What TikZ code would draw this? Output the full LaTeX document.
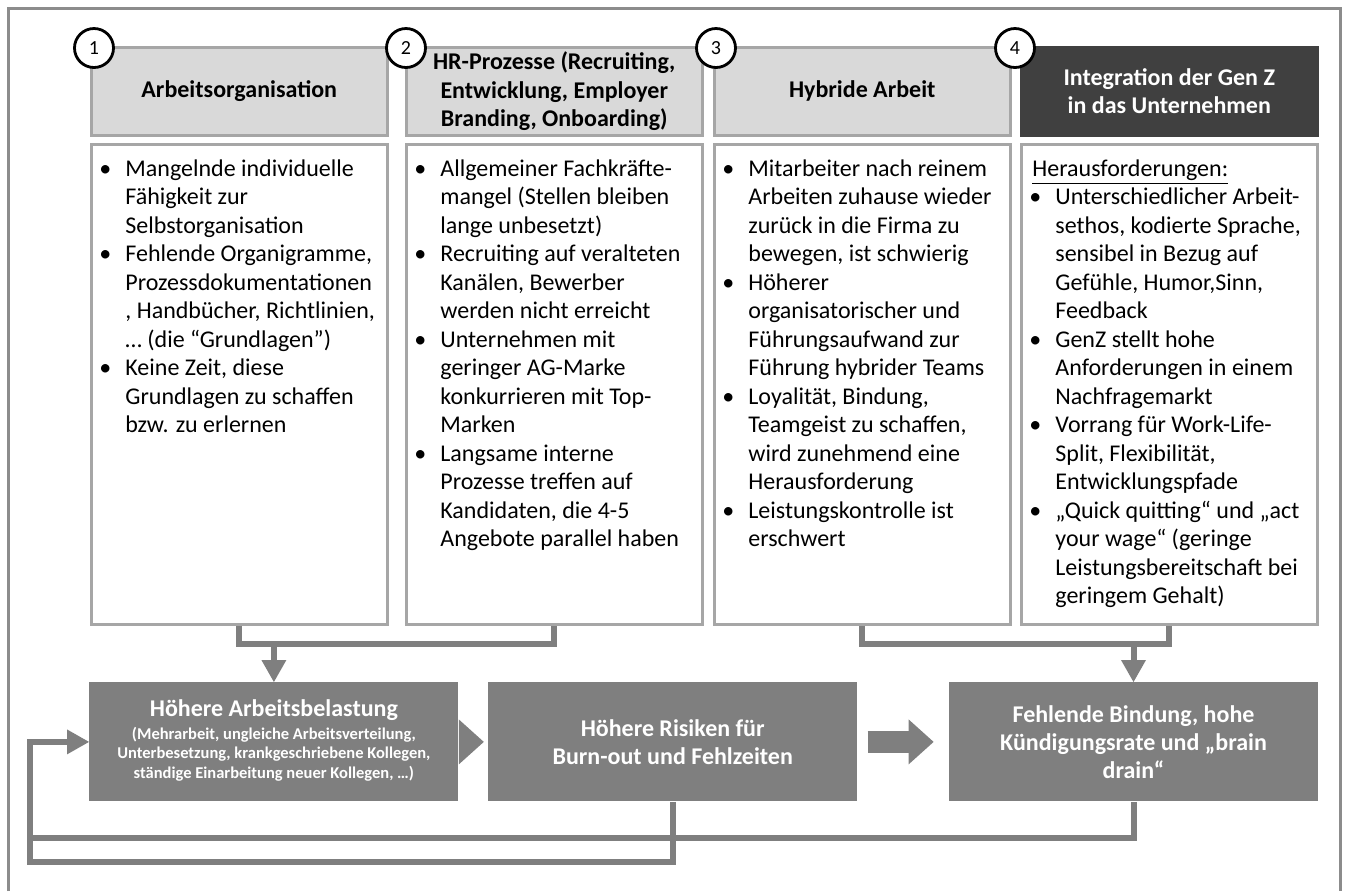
\documentclass[tikz,border=0pt]{standalone}
\usepackage{fontspec}
\setmainfont{Carlito}
\usetikzlibrary{arrows.meta,positioning}
\definecolor{rim}{HTML}{A6A6A6}
\definecolor{headfill}{HTML}{D9D9D9}
\definecolor{darkhead}{HTML}{404040}
\definecolor{boxgray}{HTML}{7F7F7F}
\definecolor{framegray}{HTML}{8C8C8C}
\newcommand{\bul}{\makebox[13pt][l]{\textbullet}}
\newcommand{\smalltext}{\fontsize{8.25}{9.75}\selectfont}

\begin{document}
\begin{tikzpicture}[
  x=0.5pt, y=-0.5pt,
  font=\fontsize{12}{14.25}\selectfont,
  head/.style={draw=rim, fill=headfill, line width=1.25pt, minimum width=148pt,
    minimum height=44pt, inner sep=0pt, align=center, font=\fontsize{12}{14.25}\selectfont\bfseries},
  card/.style={draw=rim, line width=1.25pt, minimum width=148pt, minimum height=240pt, inner sep=0pt},
  list/.style={anchor=north west, inner xsep=4.5pt, inner ysep=6.5pt, align=left},
  num/.style={circle, draw=black, fill=white, line width=1.4pt, minimum size=19.5pt,
    inner sep=0pt, font=\fontsize{10}{10}\selectfont},
  effect/.style={fill=boxgray, text=white, minimum width=184.5pt, minimum height=59.5pt,
    inner sep=0pt, align=center, font=\fontsize{12}{14}\selectfont\bfseries},
  link/.style={draw=boxgray, line width=3pt},
  linkhead/.style={-{Triangle[width=12.5pt,length=11pt,line width=0pt]}},
  block/.style={draw=boxgray, line width=11pt, -{Triangle[width=22.5pt,length=12.5pt,line width=0pt]}}
]
  \useasboundingbox (0,0) rectangle (1345,891);
  % outer frame, open at the bottom
  \draw[framegray, line width=1.5pt] (8,891) -- (8,8.5) -- (1340,8.5) -- (1340,891);

  % the four fields
  \node[head, anchor=north west] (orga) at (90,46) {Arbeitsorganisation};
  \node[head, right=8.25pt of orga] (hr) {HR-Prozesse (Recruiting,\\Entwicklung, Employer\\Branding, Onboarding)};
  \node[head, right=4.75pt of hr] (hybrid) {Hybride Arbeit};
  \node[head, right=4.25pt of hybrid, fill=darkhead, draw=darkhead, text=white] (genz)
    {Integration der Gen Z\\in das Unternehmen};

  \node[card, below=3.25pt of orga] (orga-list) {};
  \node[card, below=3.25pt of hr] (hr-list) {};
  \node[card, below=3.25pt of hybrid] (hybrid-list) {};
  \node[card, below=3.25pt of genz] (genz-list) {};

  \node[list] (orga-text) at (orga-list.north west) {\begin{tabular}{@{}l@{}l@{}}
    \bul & Mangelnde individuelle\\ & Fähigkeit zur\\ & Selbstorganisation\\
    \bul & Fehlende Organigramme,\\ & Prozessdokumentationen\\ & , Handbücher, Richtlinien,\\
      & … (die “Grundlagen”)\\
    \bul & Keine Zeit, diese\\ & Grundlagen zu schaffen\\ & bzw. zu erlernen
  \end{tabular}};
  \node[list] (hr-text) at (hr-list.north west) {\begin{tabular}{@{}l@{}l@{}}
    \bul & Allgemeiner Fachkräfte-\\ & mangel (Stellen bleiben\\ & lange unbesetzt)\\
    \bul & Recruiting auf veralteten\\ & Kanälen, Bewerber\\ & werden nicht erreicht\\
    \bul & Unternehmen mit\\ & geringer AG-Marke\\ & konkurrieren mit Top-\\ & Marken\\
    \bul & Langsame interne\\ & Prozesse treffen auf\\ & Kandidaten, die 4-5\\
      & Angebote parallel haben
  \end{tabular}};
  \node[list] (hybrid-text) at (hybrid-list.north west) {\begin{tabular}{@{}l@{}l@{}}
    \bul & Mitarbeiter nach reinem\\ & Arbeiten zuhause wieder\\ & zurück in die Firma zu\\
      & bewegen, ist schwierig\\
    \bul & Höherer\\ & organisatorischer und\\ & Führungsaufwand zur\\ & Führung hybrider Teams\\
    \bul & Loyalität, Bindung,\\ & Teamgeist zu schaffen,\\ & wird zunehmend eine\\
      & Herausforderung\\
    \bul & Leistungskontrolle ist\\ & erschwert
  \end{tabular}};
  \node[list] (genz-text) at (genz-list.north west) {\begin{tabular}{@{}l@{}l@{}}
    \multicolumn{2}{@{}l@{}}{\hspace{1.5pt}\underline{Herausforderungen:}}\\
    \bul & Unterschiedlicher Arbeit-\\ & sethos, kodierte Sprache,\\ & sensibel in Bezug auf\\
      & Gefühle, Humor,Sinn,\\ & Feedback\\
    \bul & GenZ stellt hohe\\ & Anforderungen in einem\\ & Nachfragemarkt\\
    \bul & Vorrang für Work-Life-\\ & Split, Flexibilität,\\ & Entwicklungspfade\\
    \bul & „Quick quitting“ und „act\\ & your wage“ (geringe\\ & Leistungsbereitschaft bei\\
      & geringem Gehalt)
  \end{tabular}};

  \node[num] (n1) at ([xshift=2pt,yshift=-1pt]orga.north west) {1};
  \node[num] (n2) at ([xshift=0.5pt,yshift=-1pt]hr.north west) {2};
  \node[num] (n3) at ([xshift=1.5pt,yshift=-1pt]hybrid.north west) {3};
  \node[num] (n4) at ([xshift=-2.5pt,yshift=-1pt]genz.north west) {4};

  % consequences
  \node[effect, anchor=north west] (belastung) at (89,682) {Höhere Arbeitsbelastung\\[-2.5pt]
    {\smalltext\begin{tabular}[t]{@{}c@{}}
      (Mehrarbeit, ungleiche Arbeitsverteilung,\\
      Unterbesetzung, krankgeschriebene Kollegen,\\
      ständige Einarbeitung neuer Kollegen, …)
    \end{tabular}}};
  \node[effect, right=14.5pt of belastung] (risiken) {Höhere Risiken für\\Burn-out und Fehlzeiten};
  \node[effect, right=45.5pt of risiken] (bindung) {Fehlende Bindung, hohe\\Kündigungsrate und „brain\\drain“};

  \coordinate (joinL) at ([yshift=-9pt]orga-list.south);
  \coordinate (joinR) at ([yshift=-9pt]hybrid-list.south);
  \coordinate (loopL) at (30,862);
  \coordinate (loopU) at (30,838);

  \draw[link] (orga-list.south) -- (joinL) -| (hr-list.south);
  \draw[link, linkhead] (belastung.north |- joinL) -- (belastung.north);
  \draw[link] (hybrid-list.south) -- (joinR) -| (genz-list.south);
  \draw[link, linkhead] (bindung.north |- joinR) -- (bindung.north);

  \draw[block, shorten >=2pt] (belastung.east) -- (risiken.west);
  \draw[block, shorten <=5pt, shorten >=7.5pt] (risiken.east) -- (bindung.west);

  \draw[link, linkhead] (risiken.south) |- (loopL) |- (belastung.west);
  \draw[link] (bindung.south) |- (loopU);
\end{tikzpicture}
\end{document}
